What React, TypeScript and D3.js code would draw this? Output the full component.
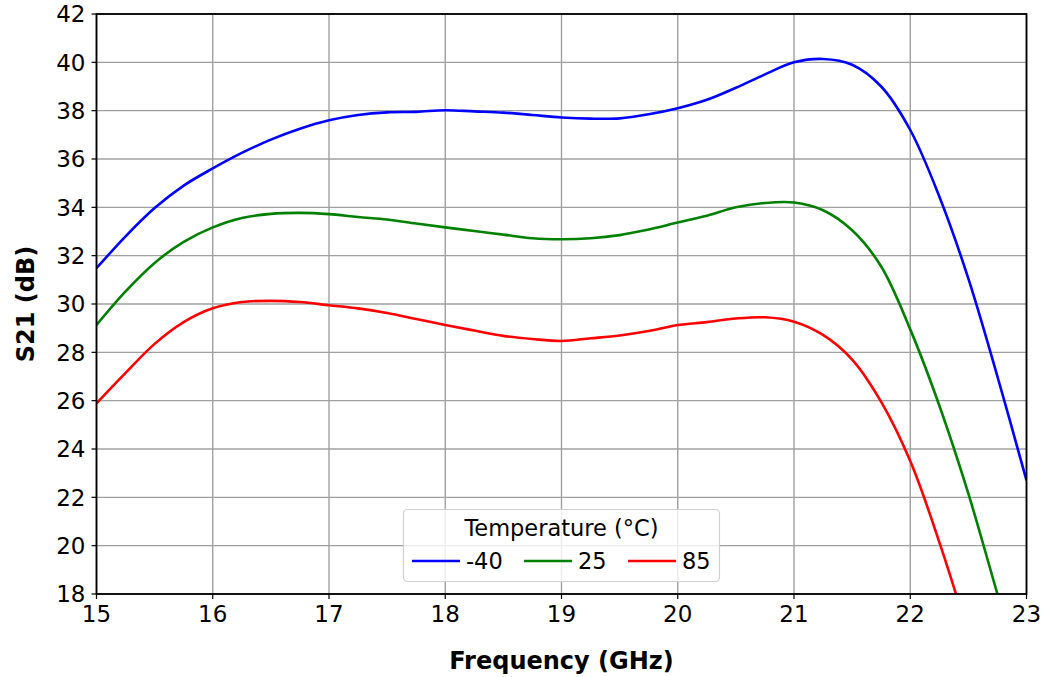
import React from "react";
import * as d3 from "d3";

// Frequency grid (GHz) shared by all three temperature sweeps
const freqGHz = [
  15, 15.25, 15.5, 15.75, 16, 16.25, 16.5, 16.75, 17, 17.25, 17.5, 17.75,
  18, 18.25, 18.5, 18.75, 19, 19.25, 19.5, 19.75, 20, 20.25, 20.5, 20.75,
  21, 21.25, 21.5, 21.75, 22, 22.25, 22.5, 22.75, 23,
];

// S21 gain (dB) at -40 °C
const s21Minus40 = [
  31.48, 32.8, 33.97, 34.9, 35.61, 36.25, 36.8, 37.25, 37.6, 37.82, 37.93, 37.95,
  38.02, 37.97, 37.92, 37.82, 37.72, 37.67, 37.68, 37.85, 38.1, 38.45, 38.95, 39.5,
  40.0, 40.14, 39.9, 39.0, 37.2, 34.45, 31.05, 27.0, 22.7,
];

// S21 gain (dB) at 25 °C
const s21Plus25 = [
  29.13, 30.52, 31.7, 32.57, 33.17, 33.56, 33.73, 33.77, 33.72, 33.6, 33.5, 33.33,
  33.17, 33.02, 32.87, 32.72, 32.68, 32.72, 32.85, 33.08, 33.37, 33.65, 34.0, 34.18,
  34.2, 33.88, 33.05, 31.55, 28.95, 25.8, 22.15, 18.0, 13.9,
];

// S21 gain (dB) at 85 °C
const s21Plus85 = [
  25.89, 27.15, 28.35, 29.25, 29.82, 30.08, 30.13, 30.08, 29.95, 29.82, 29.63, 29.38,
  29.13, 28.9, 28.68, 28.55, 28.47, 28.58, 28.7, 28.88, 29.13, 29.25, 29.4, 29.45,
  29.27, 28.72, 27.7, 25.95, 23.5, 20.15, 16.3, 12.0, 7.5,
];

const seriesLabels = ["-40", "25", "85"];
const seriesColors = ["#0000ff", "#008000", "#ff0000"];
const seriesValues = [s21Minus40, s21Plus25, s21Plus85];

const xTicks = [15, 16, 17, 18, 19, 20, 21, 22, 23];
const yTicks = [18, 20, 22, 24, 26, 28, 30, 32, 34, 36, 38, 40, 42];

const W = 1043;
const H = 677;
const M = { left: 96.5, right: 1026.5, top: 14, bottom: 594 };
const FONT = "'DejaVu Sans', sans-serif";
const TICK_FS = 23;
const LABEL_FS = 24;
const LEGEND_FS = 22.5;

export default function App() {
  const x = d3.scaleLinear().domain([15, 23]).range([M.left, M.right]);
  const y = d3.scaleLinear().domain([18, 42]).range([M.bottom, M.top]);

  const line = d3
    .line<number>()
    .x((_, i) => x(freqGHz[i]))
    .y((v) => y(v))
    .curve(d3.curveCatmullRom.alpha(0.5));

  const legendX = 403.5;
  const legendY = 509.5;
  const legendW = 316;
  const legendH = 72;
  const entryXs = [412, 524, 628];

  return (
    <svg
      width={W}
      height={H}
      style={{ position: "absolute", left: 0, top: 0, background: "#fff" }}
      fontFamily={FONT}
    >
      <defs>
        <clipPath id="plot-clip">
          <rect x={M.left} y={M.top} width={M.right - M.left} height={M.bottom - M.top} />
        </clipPath>
      </defs>

      {/* grid */}
      <g stroke="#a0a0a0" strokeWidth={1.4}>
        {xTicks.map((t) => (
          <line key={"gx" + t} x1={x(t)} x2={x(t)} y1={M.top} y2={M.bottom} />
        ))}
        {yTicks.map((t) => (
          <line key={"gy" + t} x1={M.left} x2={M.right} y1={y(t)} y2={y(t)} />
        ))}
      </g>

      {/* curves */}
      <g clipPath="url(#plot-clip)" fill="none" strokeWidth={2.6} strokeLinejoin="round">
        {seriesValues.map((vals, i) => (
          <path key={seriesLabels[i]} d={line(vals) || ""} stroke={seriesColors[i]} />
        ))}
      </g>

      {/* frame */}
      <rect
        x={M.left}
        y={M.top}
        width={M.right - M.left}
        height={M.bottom - M.top}
        fill="none"
        stroke="#000"
        strokeWidth={1.8}
      />

      {/* x ticks */}
      <g fontSize={TICK_FS} fill="#000" textAnchor="middle">
        {xTicks.map((t) => (
          <g key={"xt" + t}>
            <line x1={x(t)} x2={x(t)} y1={M.bottom} y2={M.bottom + 5} stroke="#000" strokeWidth={1.2} />
            <text x={x(t)} y={M.bottom + 28}>{t}</text>
          </g>
        ))}
      </g>

      {/* y ticks */}
      <g fontSize={TICK_FS} fill="#000" textAnchor="end">
        {yTicks.map((t) => (
          <g key={"yt" + t}>
            <line x1={M.left - 5} x2={M.left} y1={y(t)} y2={y(t)} stroke="#000" strokeWidth={1.2} />
            <text x={M.left - 11} y={y(t)} dy="0.36em">{t}</text>
          </g>
        ))}
      </g>

      {/* axis titles */}
      <text
        x={(M.left + M.right) / 2}
        y={669}
        textAnchor="middle"
        fontSize={LABEL_FS}
        fontWeight="bold"
      >
        Frequency (GHz)
      </text>
      <text
        transform={`translate(34, ${(M.top + M.bottom) / 2}) rotate(-90)`}
        textAnchor="middle"
        fontSize={LABEL_FS}
        fontWeight="bold"
      >
        S21 (dB)
      </text>

      {/* legend */}
      <g>
        <rect
          x={legendX}
          y={legendY}
          width={legendW}
          height={legendH}
          rx={4}
          fill="#fff"
          fillOpacity={0.8}
          stroke="#d0d0d0"
          strokeWidth={1.2}
        />
        <text x={legendX + legendW / 2} y={536} textAnchor="middle" fontSize={LEGEND_FS}>
          Temperature (°C)
        </text>
        {seriesLabels.map((lab, i) => (
          <g key={"lg" + lab}>
            <line
              x1={entryXs[i]}
              x2={entryXs[i] + 48}
              y1={561}
              y2={561}
              stroke={seriesColors[i]}
              strokeWidth={2.6}
            />
            <text x={entryXs[i] + 54} y={561} dy="0.36em" fontSize={LEGEND_FS}>
              {lab}
            </text>
          </g>
        ))}
      </g>
    </svg>
  );
}
